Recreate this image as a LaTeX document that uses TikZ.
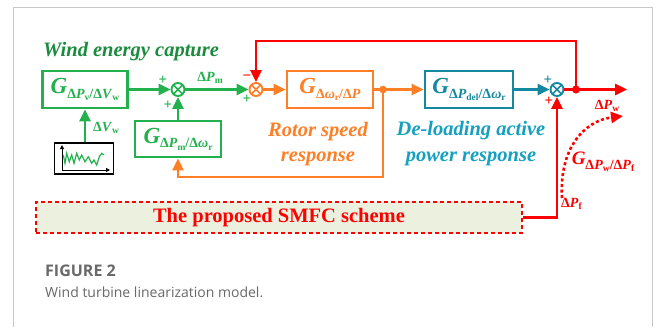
\documentclass[tikz,border=0pt]{standalone}
\usepackage{fontspec}
\setmainfont{Liberation Serif}
\newfontfamily\capfont{Open Sans}
\usetikzlibrary{arrows.meta}
\definecolor{cgreen}{RGB}{34,177,76}
\definecolor{dgreen}{RGB}{27,140,62}
\definecolor{corange}{RGB}{255,127,39}
\definecolor{cteal}{RGB}{20,136,160}
\definecolor{tteal}{RGB}{20,160,190}
\definecolor{cred}{RGB}{255,0,0}
\definecolor{smfcfill}{RGB}{235,241,222}
\definecolor{framegray}{RGB}{200,200,200}
\definecolor{capgray}{RGB}{105,105,105}
\newcommand\Gt[1]{\textbf{\textit{G}}\raisebox{-4.5pt}{\fontsize{14}{14}\selectfont\bfseries #1}}
\newcommand\sbs[1]{\raisebox{-2.5pt}{\fontsize{9.5}{9.5}\selectfont\bfseries #1}}
\begin{document}
\begin{tikzpicture}[x=1pt,y=-1pt,
  blk/.style={draw, line width=2.8pt, minimum height=37pt, inner sep=0pt, font=\fontsize{23}{23}\selectfont},
  sumn/.style={circle, draw=#1, line width=1.9pt, minimum size=13pt, inner sep=0pt,
    path picture={\draw[#1, line width=1.7pt] (path picture bounding box.north west)--(path picture bounding box.south east) (path picture bounding box.north east)--(path picture bounding box.south west);}},
  arr/.style={-{Triangle[length=12pt,width=11pt]}, line width=2.7pt},
  ln/.style={line width=2.7pt},
  lab/.style={inner sep=0pt, font=\fontsize{14}{14}\selectfont\bfseries},
  sgn/.style={inner sep=0pt, font=\fontsize{15}{15}\selectfont\bfseries},
  ttl/.style={inner sep=0pt, font=\fontsize{20.5}{25.5}\selectfont\bfseries\itshape, align=center},
  smfc/.style={draw=cred, fill=smfcfill, line width=2.6pt, dash pattern=on 4pt off 3pt, minimum width=486pt, minimum height=31pt, inner sep=0pt, text=cred, font=\fontsize{20.5}{20.5}\selectfont\bfseries}
]
\useasboundingbox (0,0) rectangle (656,327);
\fill[white] (0,0) rectangle (656,327);
\draw[framegray, line width=1pt] (13,327) -- (13,7) -- (652,7) -- (652,327);

% blocks
\node[blk, draw=cgreen, text=cgreen, minimum width=85pt] (b1) at (85,89.5) {\Gt{Δ\textit{P}\sbs{v}/Δ\textit{V}\sbs{w}}};
\node[sumn=cgreen] (s1) at (178,89.5) {};
\node[blk, draw=cgreen, text=cgreen, minimum width=86pt, minimum height=36pt] (b2) at (178,139) {\Gt{Δ\textit{P}\sbs{m}/Δ\textit{ω}\sbs{r}}};
\node[sumn=corange] (s2) at (256,89.5) {};
\node[blk, draw=corange, text=corange, minimum width=86pt] (b3) at (330,89.5) {\Gt{Δ\textit{ω}\sbs{r}/Δ\textit{P}}};
\coordinate (j1) at (383,89.5);
\node[blk, draw=cteal, text=cteal, minimum width=88pt] (b4) at (469,89.5) {\Gt{Δ\textit{P}\sbs{del}/Δ\textit{ω}\sbs{r}}};
\node[sumn=cteal] (s3) at (557,89.5) {};
\coordinate (j2) at (576,89.5);
\coordinate (out) at (627,89.5);
\coordinate (fbr) at (576,41);
\coordinate (fbo) at (383,177);
\node[smfc] (sm) at (279,217.5) {The proposed SMFC scheme};

% wind plot
\node[draw=black, line width=1.3pt, minimum width=59pt, minimum height=31pt, inner sep=0pt] (plot) at (84,158.5) {};
\coordinate (po) at (62,170);
\coordinate (py) at (62,145);
\coordinate (px) at (110,170);
\draw[line width=1pt, -{Triangle[length=4pt,width=4pt]}] (po) -- (py);
\draw[line width=1pt, -{Triangle[length=4pt,width=4pt]}] (po) -- (px);
\draw[cgreen, line width=1.2pt] (63.3,155) -- (65,163.3) -- (66.7,153.3) -- (69.3,161.7) -- (71.7,155) -- (74,163.3) -- (76.7,153.3) -- (79.3,160) -- (81.7,155) -- (85,161.7) -- (88.3,156.7) -- (91.7,163.3) -- (94,160) -- (96.7,165) -- (99.3,156.7) -- (101.7,153.3) -- (104,155);

% connectors
\draw[arr, cgreen] (b1.east) -- (s1.west);
\draw[arr, cgreen] (s1.east) -- (s2.west);
\draw[arr, cgreen] (b2.north) -- (s1.south);
\draw[arr, cgreen] (plot.north -| b1.south) -- (b1.south);
\draw[arr, corange] (s2.east) -- (b3.west);
\draw[ln, corange] (b3.east) -- (j1);
\draw[arr, corange] (j1) -- (b4.west);
\draw[arr, corange] (j1) -- (fbo) -| (b2.south);
\fill[corange] (j1) circle (3.8pt);
\draw[arr, cteal] (b4.east) -- (s3.west);
\draw[ln, cred] (s3.east) -- (j2);
\draw[arr, cred] (j2) -- (out);
\draw[arr, cred] (j2) -- (fbr) -| (s2.north);
\fill[cred] (j2) circle (4pt);
\draw[arr, cred] (sm.east) -| (s3.south);

% dashed transfer arc
\coordinate (c1) at (562,198);
\coordinate (c2) at (623,116);
\draw[cred, line width=2.6pt, dash pattern=on 3pt off 2.5pt, -{Triangle[length=12pt,width=11pt]}] (c1) .. controls (559,150) and (583,121) .. (c2);

% labels
\node[lab, text=cgreen] (lpm) at (210,78) {Δ\textit{P}\sbs{m}};
\node[lab, text=cgreen] (lvw) at (106,128) {Δ\textit{V}\sbs{w}};
\node[lab, text=cred] (lpw) at (607,106) {Δ\textit{P}\sbs{w}};
\node[lab, text=cred, anchor=west] (lpf) at (561,204) {Δ\textit{P}\sbs{f}};
\node[inner sep=0pt, text=cred, font=\fontsize{19}{19}\selectfont] (lg) at (603,162) {\Gt{Δ\textit{P}\sbs{w}/Δ\textit{P}\sbs{f}}};

\node[sgn, text=cgreen] (p1) at (163,80) {+};
\node[sgn, text=cgreen] (p2) at (168,105) {+};
\node[sgn, text=cred] (m2) at (247,78) {−};
\node[sgn, text=cgreen] (p3) at (247,99) {+};
\node[sgn, text=cteal] (p4) at (548,80) {+};
\node[sgn, text=cred] (p5) at (549,101) {+};

\node[ttl, text=dgreen, anchor=west] (twe) at (43,52) {Wind energy capture};
\node[ttl, text=corange] (trs) at (318,144) {Rotor speed\\response};
\node[ttl, text=tteal] (tdl) at (471,143.5) {De-loading active\\power response};

% caption
\node[inner sep=0pt, anchor=west, text=capgray, font=\capfont\bfseries\fontsize{16}{16}\selectfont] (fig) at (45,271) {FIGURE 2};
\node[inner sep=0pt, anchor=west, text=capgray, font=\capfont\fontsize{14}{14}\selectfont] (cap) at (45,292) {Wind turbine linearization model.};
\end{tikzpicture}
\end{document}
